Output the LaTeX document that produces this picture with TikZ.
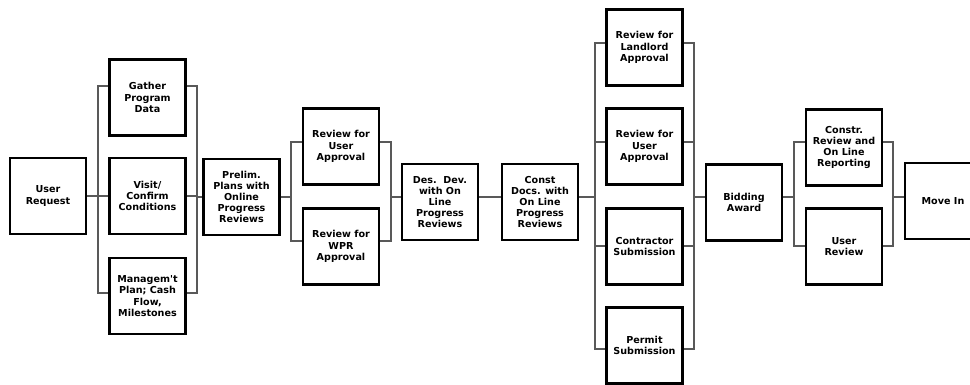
\documentclass[tikz,border=0pt]{standalone}
\usepackage{fontspec}
\setmainfont{DejaVu Sans}
\begin{document}
\begin{tikzpicture}[x=0.75pt,y=-0.75pt,
  stage/.style={draw=black, line width=1.6pt, minimum width=57pt, minimum height=57pt,
    inner sep=0pt, align=center, fill=white,
    font=\fontsize{7.2}{8.4}\selectfont\bfseries},
  link/.style={draw=black!65, line width=0.8pt}]
\clip (0,0) rectangle (970,385);
\fill[white] (0,0) rectangle (970,385);

% process steps
\node[stage] (ur)  at (48,196)    {User\\Request};
\node[stage] (gpd) at (147.5,97.5) {Gather\\Program\\Data};
\node[stage] (vcc) at (147.5,196) {Visit/\\Confirm\\Conditions};
\node[stage] (mgp) at (147.5,296) {Managem\textquotesingle t\\Plan; Cash\\Flow,\\Milestones};
\node[stage] (pre) at (241.5,197) {Prelim.\\Plans with\\Online\\Progress\\Reviews};
\node[stage] (rua) at (341,146.5) {Review for\\User\\Approval};
\node[stage] (rwa) at (341,246.5) {Review for\\WPR\\Approval};
\node[stage] (ddv) at (440,202)   {Des.\ \ Dev.\\with On\\Line\\Progress\\Reviews};
\node[stage] (cdo) at (540,202)   {Const\\Docs. with\\On Line\\Progress\\Reviews};
\node[stage] (lla) at (644.5,47.5) {Review for\\Landlord\\Approval};
\node[stage] (cua) at (644.5,146.5) {Review for\\User\\Approval};
\node[stage] (cts) at (644.5,246.5) {Contractor\\Submission};
\node[stage] (pms) at (644.5,345.5) {Permit\\Submission};
\node[stage] (bid) at (744,202.5) {Bidding\\Award};
\node[stage] (crr) at (844,147.5) {Constr.\\Review and\\On Line\\Reporting};
\node[stage] (urv) at (844,246.5) {User\\Review};
\node[stage] (mov) at (943,201)   {Move In};

% bracket corners
\coordinate (a1) at (98,86);   \coordinate (a2) at (98,293);
\coordinate (a3) at (197,86);  \coordinate (a4) at (197,293);
\coordinate (b1) at (291,142); \coordinate (b2) at (291,241);
\coordinate (b3) at (391,142); \coordinate (b4) at (391,241);
\coordinate (c1) at (595,43);  \coordinate (c2) at (595,349);
\coordinate (c3) at (694,43);  \coordinate (c4) at (694,349);
\coordinate (c5) at (595,142); \coordinate (c6) at (595,246);
\coordinate (c7) at (694,142); \coordinate (c8) at (694,246);
\coordinate (d1) at (794,142); \coordinate (d2) at (794,246);
\coordinate (d3) at (893,142); \coordinate (d4) at (893,246);

% first fork
\draw[link] (ur.east) -- (ur.east -| a1);
\draw[link] (gpd.west |- a1) -- (a1) -- (a2) -- (mgp.west |- a2);
\draw[link] (vcc.west) -- (vcc.west -| a1);
\draw[link] (gpd.east |- a3) -- (a3) -- (a4) -- (mgp.east |- a4);
\draw[link] (vcc.east) -- (vcc.east -| a3);
\draw[link] (a3 |- pre.west) -- (pre.west);

% second fork
\draw[link] (pre.east) -- (pre.east -| b1);
\draw[link] (rua.west |- b1) -- (b1) -- (b2) -- (rwa.west |- b2);
\draw[link] (rua.east |- b3) -- (b3) -- (b4) -- (rwa.east |- b4);
\draw[link] (b3 |- pre.east) -- (ddv.west |- pre.east);
\draw[link] (ddv.east |- pre.east) -- (cdo.west |- pre.east);

% third fork
\draw[link] (cdo.east |- pre.east) -- (c1 |- pre.east);
\draw[link] (lla.west |- c1) -- (c1) -- (c2) -- (pms.west |- c2);
\draw[link] (c5) -- (cua.west |- c5);
\draw[link] (c6) -- (cts.west |- c6);
\draw[link] (lla.east |- c3) -- (c3) -- (c4) -- (pms.east |- c4);
\draw[link] (cua.east |- c7) -- (c7);
\draw[link] (cts.east |- c8) -- (c8);
\draw[link] (c3 |- pre.east) -- (bid.west |- pre.east);

% fourth fork
\draw[link] (bid.east |- pre.east) -- (d1 |- pre.east);
\draw[link] (crr.west |- d1) -- (d1) -- (d2) -- (urv.west |- d2);
\draw[link] (crr.east |- d3) -- (d3) -- (d4) -- (urv.east |- d4);
\draw[link] (d3 |- pre.east) -- (mov.west |- pre.east);
\end{tikzpicture}
\end{document}
